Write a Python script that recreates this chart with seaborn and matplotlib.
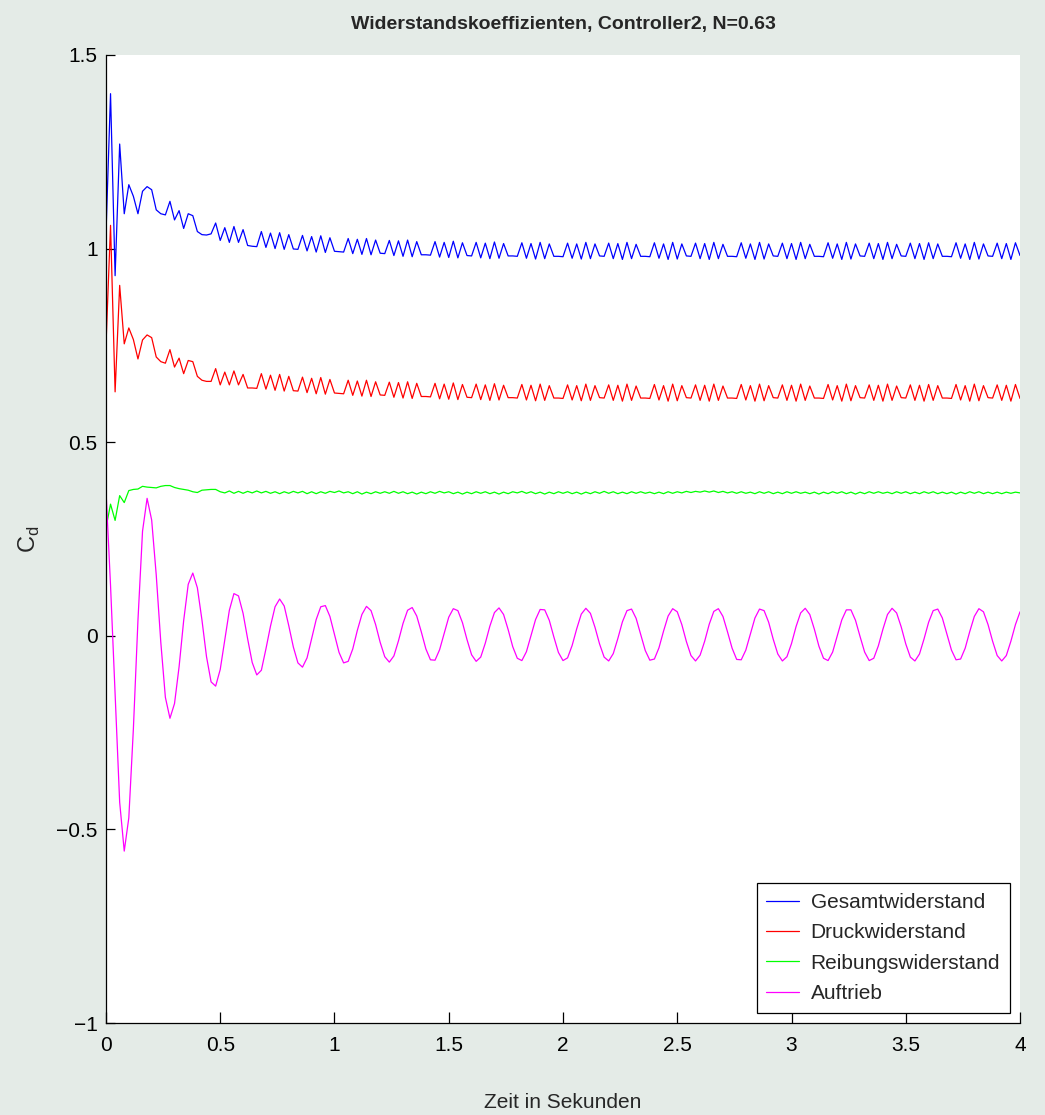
import numpy as np
import pandas as pd
import matplotlib
matplotlib.use("Agg")
import matplotlib.pyplot as plt
import seaborn as sns

# Abtastzeiten (dt = 0.02 s)
zeit = np.round(np.arange(201) * 0.02, 2)

gesamt = [
    1.036, 1.400, 0.930, 1.270, 1.090, 1.165, 1.135, 1.090, 1.148, 1.160,
    1.152, 1.100, 1.090, 1.087, 1.122, 1.074, 1.098, 1.052, 1.090, 1.085,
    1.044, 1.036, 1.035, 1.038, 1.066, 1.021, 1.054, 1.016, 1.057, 1.016,
    1.049, 1.008, 1.006, 1.005, 1.044, 1.003, 1.040, 1.000, 1.041, 0.998,
    1.036, 0.999, 0.998, 1.034, 0.994, 1.031, 0.991, 1.033, 0.990, 1.028,
    0.993, 0.992, 0.991, 1.026, 0.987, 1.024, 0.985, 1.026, 0.984, 1.022,
    0.988, 0.987, 1.021, 0.982, 1.020, 0.980, 1.022, 0.979, 1.018, 0.984,
    0.984, 0.983, 1.018, 0.978, 1.016, 0.977, 1.019, 0.976, 1.015, 0.982,
    0.981, 1.016, 0.976, 1.014, 0.974, 1.017, 0.975, 1.013, 0.981, 0.981,
    0.980, 1.015, 0.975, 1.013, 0.973, 1.016, 0.974, 1.012, 0.980, 0.980,
    0.979, 1.014, 0.975, 1.012, 0.973, 1.016, 0.974, 1.012, 0.981, 0.980,
    1.014, 0.974, 1.013, 0.972, 1.016, 0.974, 1.011, 0.980, 0.980, 0.979,
    1.015, 0.975, 1.012, 0.972, 1.016, 0.973, 1.012, 0.981, 0.980, 1.014,
    0.974, 1.013, 0.972, 1.016, 0.974, 1.011, 0.980, 0.980, 0.979, 1.015,
    0.975, 1.012, 0.972, 1.016, 0.973, 1.012, 0.981, 0.980, 1.014, 0.974,
    1.013, 0.972, 1.016, 0.974, 1.011, 0.980, 0.980, 0.979, 1.015, 0.975,
    1.012, 0.972, 1.016, 0.973, 1.012, 0.981, 0.980, 1.014, 0.974, 1.013,
    0.972, 1.016, 0.974, 1.011, 0.981, 0.980, 1.014, 0.974, 1.013, 0.972,
    1.015, 0.974, 1.012, 0.980, 0.980, 0.979, 1.015, 0.975, 1.012, 0.972,
    1.016, 0.973, 1.012, 0.981, 0.980, 1.014, 0.974, 1.013, 0.972, 1.015,
    0.982,
]

druck = [
    0.749, 1.060, 0.630, 0.905, 0.754, 0.795, 0.765, 0.715, 0.764, 0.777,
    0.770, 0.720, 0.708, 0.704, 0.739, 0.694, 0.717, 0.677, 0.711, 0.708,
    0.670, 0.660, 0.657, 0.657, 0.690, 0.648, 0.681, 0.648, 0.684, 0.648,
    0.675, 0.640, 0.640, 0.639, 0.677, 0.637, 0.673, 0.634, 0.675, 0.632,
    0.670, 0.633, 0.632, 0.668, 0.628, 0.665, 0.625, 0.667, 0.624, 0.662,
    0.627, 0.626, 0.625, 0.660, 0.621, 0.658, 0.619, 0.660, 0.618, 0.656,
    0.622, 0.621, 0.655, 0.616, 0.654, 0.614, 0.656, 0.613, 0.652, 0.618,
    0.618, 0.617, 0.652, 0.612, 0.650, 0.611, 0.653, 0.610, 0.649, 0.616,
    0.615, 0.650, 0.610, 0.648, 0.608, 0.651, 0.609, 0.647, 0.615, 0.615,
    0.614, 0.649, 0.609, 0.647, 0.607, 0.650, 0.608, 0.646, 0.614, 0.614,
    0.613, 0.648, 0.609, 0.646, 0.607, 0.650, 0.608, 0.646, 0.615, 0.614,
    0.648, 0.608, 0.647, 0.606, 0.650, 0.608, 0.645, 0.614, 0.614, 0.613,
    0.649, 0.609, 0.646, 0.606, 0.650, 0.607, 0.646, 0.615, 0.614, 0.648,
    0.608, 0.647, 0.606, 0.650, 0.608, 0.645, 0.614, 0.614, 0.613, 0.649,
    0.609, 0.646, 0.606, 0.650, 0.607, 0.646, 0.615, 0.614, 0.648, 0.608,
    0.647, 0.606, 0.650, 0.608, 0.645, 0.614, 0.614, 0.613, 0.649, 0.609,
    0.646, 0.606, 0.650, 0.607, 0.646, 0.615, 0.614, 0.648, 0.608, 0.647,
    0.606, 0.650, 0.608, 0.645, 0.615, 0.614, 0.648, 0.608, 0.647, 0.606,
    0.649, 0.608, 0.646, 0.614, 0.614, 0.613, 0.649, 0.609, 0.646, 0.606,
    0.650, 0.607, 0.646, 0.615, 0.614, 0.648, 0.608, 0.647, 0.606, 0.649,
    0.613,
]

reibung = [
    0.278, 0.340, 0.298, 0.362, 0.344, 0.375, 0.378, 0.379, 0.386, 0.384,
    0.383, 0.382, 0.386, 0.388, 0.388, 0.383, 0.380, 0.378, 0.376, 0.372,
    0.370, 0.376, 0.377, 0.378, 0.378, 0.372,
    0.369, 0.374, 0.368, 0.373, 0.368, 0.373, 0.369, 0.374, 0.369, 0.373,
    0.368, 0.372, 0.367, 0.372, 0.368, 0.373, 0.369, 0.373, 0.367, 0.372,
    0.367, 0.372, 0.368, 0.373, 0.370, 0.374, 0.369, 0.372, 0.367, 0.372,
    0.366, 0.371, 0.367, 0.372, 0.368, 0.372, 0.368, 0.373, 0.368, 0.372,
    0.367, 0.371, 0.366, 0.371, 0.367, 0.372, 0.368, 0.373, 0.369, 0.372,
    0.367, 0.371, 0.366, 0.371, 0.367, 0.372, 0.368, 0.372, 0.367, 0.371,
    0.366, 0.371, 0.367, 0.372, 0.369, 0.373, 0.368, 0.372, 0.367, 0.371,
    0.366, 0.371, 0.367, 0.372, 0.368, 0.372, 0.367, 0.371, 0.366, 0.371,
    0.367, 0.372, 0.368, 0.373, 0.368, 0.372, 0.367, 0.371, 0.367, 0.372,
    0.368, 0.372, 0.368, 0.371, 0.367, 0.371, 0.367, 0.372, 0.368, 0.372,
    0.369, 0.373, 0.370, 0.373, 0.371, 0.374, 0.371, 0.374, 0.370, 0.373,
    0.369, 0.372, 0.368, 0.372, 0.368, 0.371, 0.367, 0.372, 0.368, 0.372,
    0.367, 0.371, 0.367, 0.372, 0.368, 0.372, 0.368, 0.371, 0.367, 0.371,
    0.366, 0.371, 0.367, 0.372, 0.368, 0.372, 0.367, 0.371, 0.366, 0.371,
    0.367, 0.372, 0.368, 0.372, 0.368, 0.371, 0.367, 0.372, 0.368, 0.372,
    0.367, 0.371, 0.367, 0.372, 0.368, 0.372, 0.367, 0.371, 0.367, 0.371,
    0.366, 0.371, 0.367, 0.372, 0.368, 0.372, 0.367, 0.371, 0.367, 0.371,
    0.367, 0.371, 0.368, 0.371, 0.369,
]

auftrieb = [
    0.377, 0.130, -0.150, -0.430, -0.556, -0.470, -0.240, 0.040, 0.270, 0.355,
    0.299, 0.157, -0.017, -0.159, -0.213, -0.175, -0.080, 0.039, 0.133, 0.162,
    0.124, 0.041, -0.054, -0.119, -0.130, -0.087, -0.010, 0.066, 0.109, 0.103,
    0.058, -0.008, -0.069, -0.101, -0.089, -0.034, 0.025, 0.075, 0.095, 0.077,
    0.026, -0.029, -0.070, -0.081, -0.057, -0.007, 0.042, 0.075, 0.078, 0.050,
    0.003, -0.043, -0.070, -0.066, -0.034, 0.014, 0.055, 0.076, 0.065, 0.029,
    -0.017, -0.054, -0.068, -0.052, -0.013, 0.032, 0.066, 0.073, 0.051, 0.010,
    -0.034, -0.062, -0.063, -0.036, 0.006, 0.048, 0.070, 0.065, 0.034, -0.010,
    -0.049, -0.066, -0.055, -0.019, 0.025, 0.060, 0.072, 0.055, 0.016, -0.028,
    -0.058, -0.064, -0.041, 0.000, 0.042, 0.068, 0.067, 0.040, -0.003, -0.043,
    -0.064, -0.057, -0.025, 0.018, 0.056, 0.071, 0.058, 0.022, -0.021, -0.055,
    -0.065, -0.046, -0.007, 0.036, 0.065, 0.069, 0.045, 0.004, -0.038, -0.063,
    -0.060, -0.031, 0.012, 0.051, 0.070, 0.062, 0.029, -0.015, -0.051, -0.065,
    -0.050, -0.014, 0.030, 0.063, 0.070, 0.050, 0.010, -0.032, -0.061, -0.062,
    -0.037, 0.005, 0.046, 0.069, 0.065, 0.035, -0.009, -0.047, -0.065, -0.054,
    -0.020, 0.024, 0.059, 0.071, 0.055, 0.017, -0.027, -0.058, -0.064, -0.042,
    -0.001, 0.041, 0.067, 0.067, 0.040, -0.002, -0.042, -0.064, -0.058, -0.026,
    0.017, 0.055, 0.071, 0.059, 0.023, -0.021, -0.055, -0.065, -0.047, -0.008,
    0.035, 0.065, 0.069, 0.046, 0.005, -0.037, -0.062, -0.060, -0.032, 0.011,
    0.050, 0.070, 0.062, 0.029, -0.014, -0.051, -0.065, -0.051, -0.014, 0.029,
    0.062,
]

namen = ["Gesamtwiderstand", "Druckwiderstand", "Reibungswiderstand", "Auftrieb"]
farben = ["#0000ff", "#ff0000", "#00ff00", "#ff00ff"]

df = pd.concat([
    pd.DataFrame({"zeit": zeit, "wert": werte, "reihe": name})
    for name, werte in zip(namen, [gesamt, druck, reibung, auftrieb])
])

sns.set_style("ticks")
plt.rcParams["font.family"] = ["Liberation Sans", "DejaVu Sans"]
plt.rcParams["mathtext.fontset"] = "custom"
plt.rcParams["mathtext.rm"] = "Liberation Sans"

fig, ax = plt.subplots(figsize=(10.45, 11.15), dpi=100)
fig.patch.set_facecolor("#e4ebe7")
ax.set_facecolor("white")
fig.subplots_adjust(left=0.1014, right=0.9761, top=0.9507, bottom=0.0825)

sns.lineplot(
    data=df,
    x="zeit",
    y="wert",
    hue="reihe",
    hue_order=namen,
    palette=farben,
    estimator=None,
    sort=False,
    linewidth=0.9,
    ax=ax
)

ax.set_xlim(0, 4)
ax.set_ylim(-1, 1.5)
ax.set_xticks([0, 0.5, 1, 1.5, 2, 2.5, 3, 3.5, 4])
ax.set_xticklabels(["0", "0.5", "1", "1.5", "2", "2.5", "3", "3.5", "4"])
ax.set_yticks([-1, -0.5, 0, 0.5, 1, 1.5])
ax.set_yticklabels(["\u22121", "\u22120.5", "0", "0.5", "1", "1.5"])

for side in ["top", "right"]:
    ax.spines[side].set_visible(False)
for side in ["left", "bottom"]:
    ax.spines[side].set_color("black")
    ax.spines[side].set_linewidth(0.9)

ax.tick_params(axis="x", direction="in", length=8, width=0.9, pad=9, labelsize=15, colors="black")
ax.tick_params(axis="y", direction="in", length=6.5, width=0.9, pad=6, labelsize=15, colors="black")

ax.set_title("Widerstandskoeffizienten, Controller2, N=0.63", fontsize=14,
             fontweight="bold", pad=19)
ax.set_xlabel("Zeit in Sekunden", fontsize=15, labelpad=28)
ax.set_ylabel(r"C$_\mathregular{d}$", fontsize=17, labelpad=10)

handles, labels = ax.get_legend_handles_labels()
leg = ax.legend(
    handles, labels,
    loc="lower right",
    fontsize=15,
    frameon=True,
    fancybox=False,
    framealpha=1,
    edgecolor="black",
    borderaxespad=0.5,
    handlelength=1.6,
    handletextpad=0.55,
    labelspacing=0.55,
    borderpad=0.45
)
leg.get_frame().set_linewidth(0.9)

plt.savefig("out.png", dpi=100, facecolor=fig.get_facecolor())
plt.close()
